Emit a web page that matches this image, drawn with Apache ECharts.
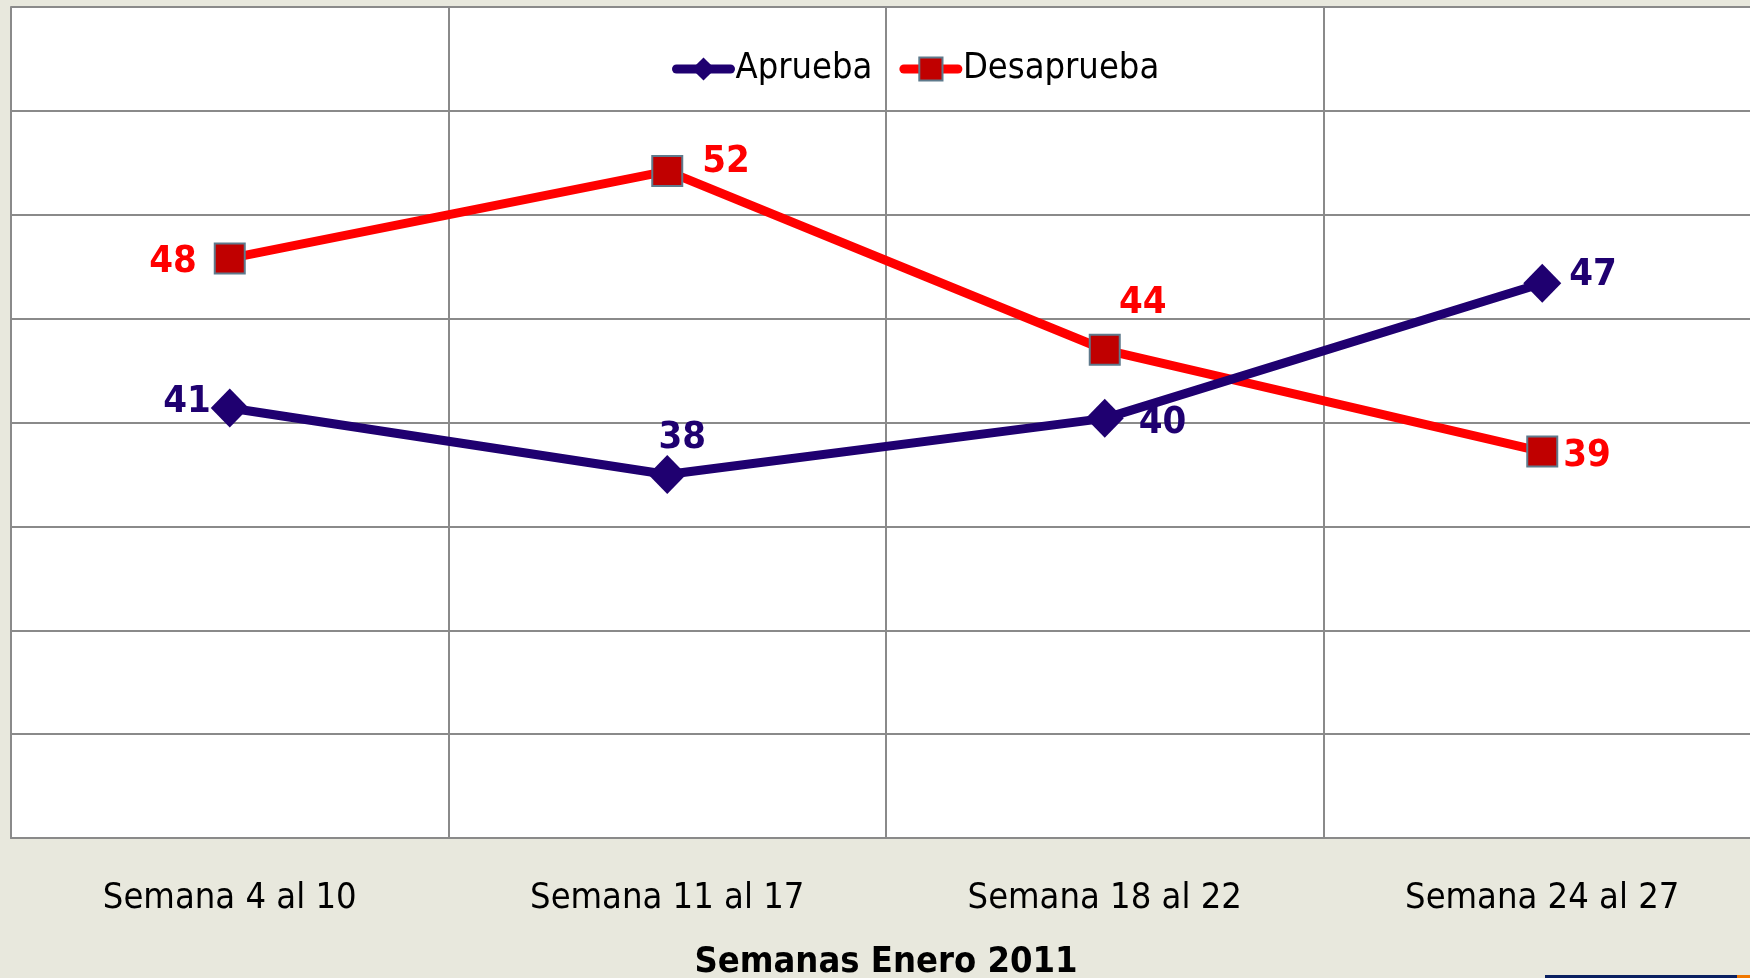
<!DOCTYPE html>
<html>
<head>
<meta charset="utf-8">
<script src="https://cdn.jsdelivr.net/npm/echarts@6/dist/echarts.min.js"></script>
<style>
  html, body { margin: 0; padding: 0; background: #e8e8dd; }
  #chart { width: 1750px; height: 978px; }
</style>
</head>
<body>
<div id="chart"></div>
<script>
// datos
var semanas = ['Semana 4 al 10', 'Semana 11 al 17', 'Semana 18 al 22', 'Semana 24 al 27'];
var aprueba = [40.7, 37.5, 40.2, 46.7];
var desaprueba = [47.9, 52.1, 43.5, 38.6];
// donde va cada etiqueta respecto al punto
var posAprueba = ['left', 'top', 'right', 'right'];
var posDesaprueba = ['left', 'right', 'top', 'right'];

var FUENTE = "'DejaVu Sans Condensed', 'Liberation Sans', sans-serif";
var AZUL = '#1f0070';
var ROJO = '#ff0000';

var chartDom = document.getElementById('chart');
var myChart = echarts.init(chartDom);

// ajustes finos de etiquetas
var ajusteA = [
  { distance: 0, offset: [0, -6] },
  { distance: 4, offset: [15, 6] },
  { distance: 15, offset: [0, 5] },
  { distance: 8, offset: [0, -8] }
];
var ajusteD = [
  { distance: 17, offset: [0, 4] },
  { distance: 19, offset: [0, -9] },
  { distance: 18, offset: [38, 6] },
  { distance: 5, offset: [0, 5] }
];

function armarDatos(valores, posiciones, ajustes) {
  return valores.map(function (v, i) {
    return {
      value: v,
      label: {
        position: posiciones[i],
        distance: ajustes[i].distance,
        offset: ajustes[i].offset
      }
    };
  });
}

var option = {
  backgroundColor: '#e8e8dd',
  textStyle: { fontFamily: FUENTE },
  legend: {
    left: 672,
    top: 51,
    padding: 0,
    itemWidth: 54,
    itemHeight: 29,
    itemGap: 27,
    lineStyle: { width: 9, cap: 'round' },
    textStyle: { color: '#000', fontSize: 36, fontFamily: FUENTE },
    data: ['Aprueba', 'Desaprueba']
  },
  grid: {
    left: 11,
    top: 7,
    right: -11,
    bottom: 140,
    outerBoundsMode: 'none',
    containLabel: false,
    show: true,
    backgroundColor: '#ffffff',
    borderWidth: 0
  },
  xAxis: {
    type: 'category',
    data: semanas,
    boundaryGap: true,
    name: 'Semanas Enero 2011',
    nameLocation: 'middle',
    nameGap: 107,
    nameTextStyle: { color: '#000', fontSize: 36, fontWeight: 'bold', fontFamily: FUENTE },
    axisLine: { show: true, lineStyle: { color: '#8a8a8a', width: 2 } },
    axisTick: { show: false },
    axisLabel: { color: '#000', fontSize: 36, margin: 43, fontFamily: FUENTE },
    splitLine: { show: true, lineStyle: { color: '#8a8a8a', width: 2 } }
  },
  yAxis: {
    type: 'value',
    min: 20,
    max: 60,
    interval: 5,
    axisLabel: { show: false },
    axisTick: { show: false },
    axisLine: { show: true, lineStyle: { color: '#8a8a8a', width: 2 } },
    splitLine: { show: true, lineStyle: { color: '#8a8a8a', width: 2 } }
  },
  series: [
    {
      name: 'Aprueba',
      type: 'line',
      data: armarDatos(aprueba, posAprueba, ajusteA),
      symbol: 'diamond',
      symbolSize: [38, 39],
      lineStyle: { color: AZUL, width: 9 },
      itemStyle: { color: AZUL },
      label: {
        show: true,
        color: AZUL,
        fontSize: 38,
        fontWeight: 'bold',
        fontFamily: FUENTE,
        formatter: function (p) { return Math.round(p.value); }
      },
      z: 3
    },
    {
      name: 'Desaprueba',
      type: 'line',
      data: armarDatos(desaprueba, posDesaprueba, ajusteD),
      symbol: 'rect',
      symbolSize: 30,
      lineStyle: { color: ROJO, width: 9 },
      itemStyle: { color: '#c00000', borderColor: '#5e7a8c', borderWidth: 2 },
      label: {
        show: true,
        color: ROJO,
        fontSize: 38,
        fontWeight: 'bold',
        fontFamily: FUENTE,
        formatter: function (p) { return Math.round(p.value); }
      },
      z: 2
    }
  ],
  graphic: [
    { type: 'rect', left: 1545, top: 975, shape: { width: 192, height: 3 }, style: { fill: '#0a2060' }, silent: true },
    { type: 'rect', left: 1737, top: 975, shape: { width: 13, height: 3 }, style: { fill: '#f07800' }, silent: true }
  ],
  animation: false
};

myChart.setOption(option);
</script>
</body>
</html>
